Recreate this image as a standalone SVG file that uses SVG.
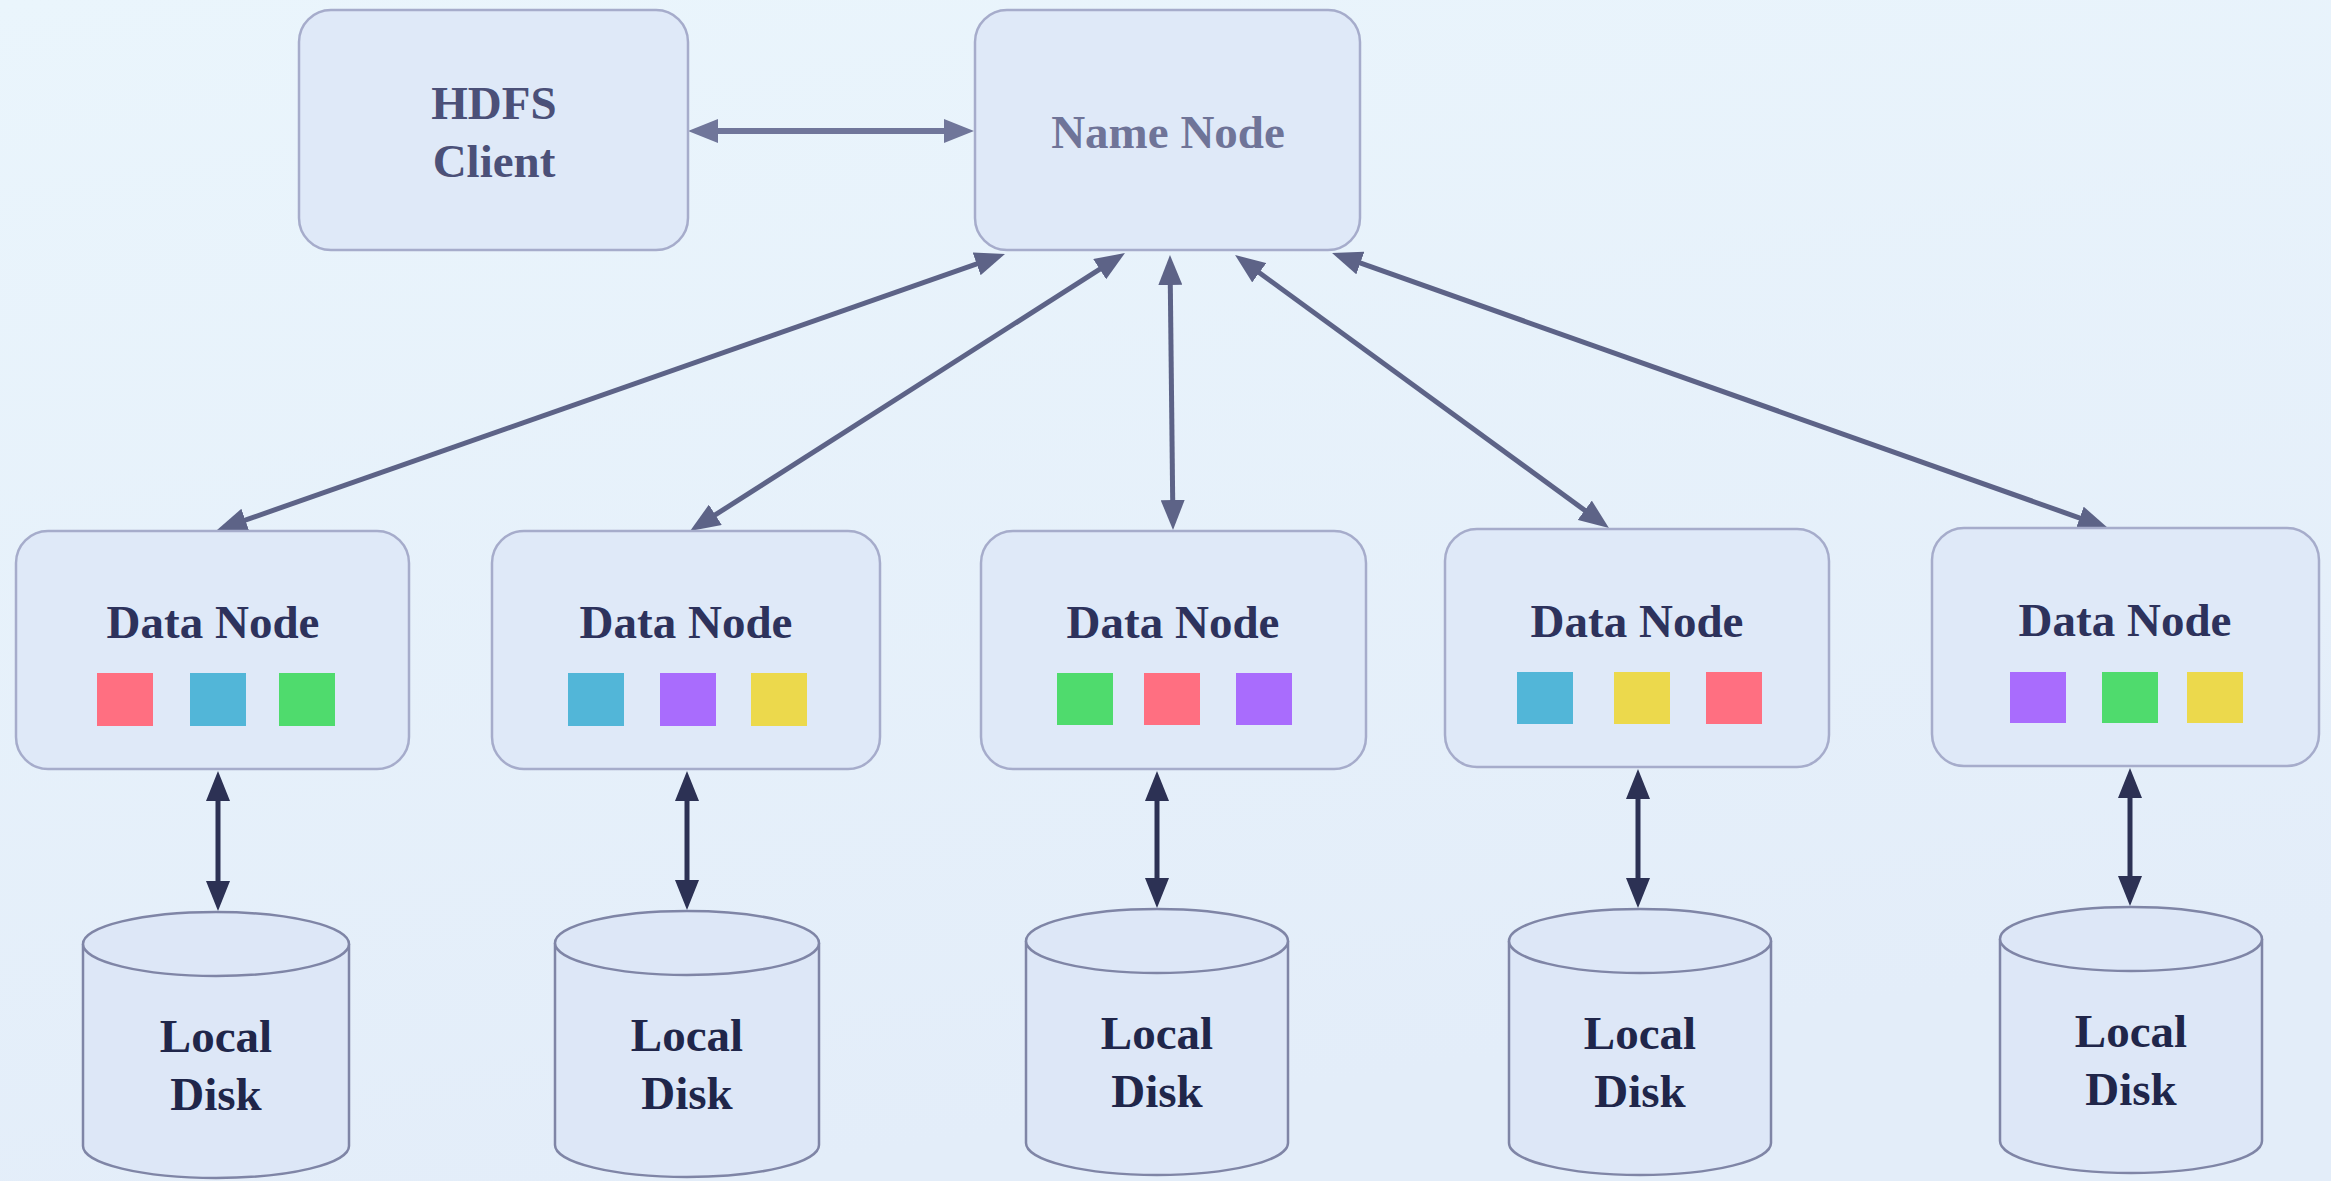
<svg xmlns="http://www.w3.org/2000/svg" width="2331" height="1181" viewBox="0 0 2331 1181">
<defs>
<linearGradient id="bg" x1="0" y1="0" x2="0.3" y2="1">
<stop offset="0" stop-color="#eaf5fc"/>
<stop offset="1" stop-color="#e3edf9"/>
</linearGradient>
<marker id="ahTop" markerUnits="userSpaceOnUse" markerWidth="30" markerHeight="24" viewBox="0 0 30 24" refX="10" refY="12" orient="auto-start-reverse">
<path d="M0,0 L30,12 L0,24 z" fill="#5d6387"/>
</marker>
<marker id="ahGrey" markerUnits="userSpaceOnUse" markerWidth="30" markerHeight="24" viewBox="0 0 30 24" refX="10" refY="12" orient="auto-start-reverse">
<path d="M0,0 L30,12 L0,24 z" fill="#70769a"/>
</marker>
<marker id="ahDark" markerUnits="userSpaceOnUse" markerWidth="30" markerHeight="24" viewBox="0 0 30 24" refX="10" refY="12" orient="auto-start-reverse">
<path d="M0,0 L30,12 L0,24 z" fill="#2c3154"/>
</marker>
</defs>
<style>
.box{fill:#dfe9f8;stroke:#a6accb;stroke-width:2.5}
.disk{fill:#dde7f7;stroke:#7f85a6;stroke-width:2.5}
.t{font-family:"Liberation Serif","Times New Roman",serif;font-weight:bold;font-size:47px;text-anchor:middle}
.top{fill:#4b5078}
.nn{fill:#6f7498}
.dn{fill:#2d325c}
.ld{fill:#20264a}
.sq{stroke:none}
.red{fill:#ff6f81}.blue{fill:#52b6d8}.green{fill:#4fdb6d}.purple{fill:#a96cfd}.yellow{fill:#ecd94c}
.c1{stroke:#5d6387;stroke-width:5;fill:none;marker-start:url(#ahTop);marker-end:url(#ahTop)}
.c0{stroke:#70769a;stroke-width:6;fill:none;marker-start:url(#ahGrey);marker-end:url(#ahGrey)}
.c2{stroke:#2c3154;stroke-width:5;fill:none;marker-start:url(#ahDark);marker-end:url(#ahDark)}
</style>
<rect x="0" y="0" width="2331" height="1181" fill="url(#bg)"/>

<g id="connectors">
<line class="c0" x1="708" y1="131" x2="954" y2="131"/>
<line class="c1" x1="986.1" y1="260.6" x2="235.9" y2="523.4"/>
<line class="c1" x1="1108.1" y1="263.8" x2="706.9" y2="520.2"/>
<line class="c1" x1="1170.2" y1="275" x2="1172.8" y2="510"/>
<line class="c1" x1="1251.2" y1="266.8" x2="1592.8" y2="516.2"/>
<line class="c1" x1="1350.9" y1="259.7" x2="2089.1" y2="521.3"/>
<line class="c2" x1="218" y1="791" x2="218" y2="891"/>
<line class="c2" x1="687" y1="791" x2="687" y2="890"/>
<line class="c2" x1="1157" y1="791" x2="1157" y2="888"/>
<line class="c2" x1="1638" y1="789" x2="1638" y2="888"/>
<line class="c2" x1="2130" y1="788" x2="2130" y2="886"/>
</g>

<g id="hdfs-client">
<rect class="box" x="299" y="10" width="389" height="240" rx="32"/>
<text class="t top" x="494" y="119">HDFS</text>
<text class="t top" x="494" y="177">Client</text>
</g>

<g id="name-node">
<rect class="box" x="975" y="10" width="385" height="240" rx="32"/>
<text class="t nn" x="1168" y="148">Name Node</text>
</g>

<g id="data-node-1">
<rect class="box" x="16" y="531" width="393" height="238" rx="32"/>
<text class="t dn" x="213" y="638">Data Node</text>
<rect class="sq red" x="97" y="673" width="56" height="53"/>
<rect class="sq blue" x="190" y="673" width="56" height="53"/>
<rect class="sq green" x="279" y="673" width="56" height="53"/>
</g>

<g id="data-node-2">
<rect class="box" x="492" y="531" width="388" height="238" rx="32"/>
<text class="t dn" x="686" y="638">Data Node</text>
<rect class="sq blue" x="568" y="673" width="56" height="53"/>
<rect class="sq purple" x="660" y="673" width="56" height="53"/>
<rect class="sq yellow" x="751" y="673" width="56" height="53"/>
</g>

<g id="data-node-3">
<rect class="box" x="981" y="531" width="385" height="238" rx="32"/>
<text class="t dn" x="1173" y="638">Data Node</text>
<rect class="sq green" x="1057" y="673" width="56" height="52"/>
<rect class="sq red" x="1144" y="673" width="56" height="52"/>
<rect class="sq purple" x="1236" y="673" width="56" height="52"/>
</g>

<g id="data-node-4">
<rect class="box" x="1445" y="529" width="384" height="238" rx="32"/>
<text class="t dn" x="1637" y="637">Data Node</text>
<rect class="sq blue" x="1517" y="672" width="56" height="52"/>
<rect class="sq yellow" x="1614" y="672" width="56" height="52"/>
<rect class="sq red" x="1706" y="672" width="56" height="52"/>
</g>

<g id="data-node-5">
<rect class="box" x="1932" y="528" width="387" height="238" rx="32"/>
<text class="t dn" x="2125" y="636">Data Node</text>
<rect class="sq purple" x="2010" y="672" width="56" height="51"/>
<rect class="sq green" x="2102" y="672" width="56" height="51"/>
<rect class="sq yellow" x="2187" y="672" width="56" height="51"/>
</g>

<g id="local-disk-1">
<path class="disk" d="M83,944 L83,1146 A133,32 0 0 0 349,1146 L349,944 A133,32 0 0 0 83,944 z"/>
<path class="disk" d="M83,944 A133,32 0 0 0 349,944" fill="none"/>
<text class="t ld" x="216" y="1052">Local</text>
<text class="t ld" x="216" y="1110">Disk</text>
</g>

<g id="local-disk-2">
<path class="disk" d="M555,943 L555,1145 A132,32 0 0 0 819,1145 L819,943 A132,32 0 0 0 555,943 z"/>
<path class="disk" d="M555,943 A132,32 0 0 0 819,943" fill="none"/>
<text class="t ld" x="687" y="1051">Local</text>
<text class="t ld" x="687" y="1109">Disk</text>
</g>

<g id="local-disk-3">
<path class="disk" d="M1026,941 L1026,1143 A131,32 0 0 0 1288,1143 L1288,941 A131,32 0 0 0 1026,941 z"/>
<path class="disk" d="M1026,941 A131,32 0 0 0 1288,941" fill="none"/>
<text class="t ld" x="1157" y="1049">Local</text>
<text class="t ld" x="1157" y="1107">Disk</text>
</g>

<g id="local-disk-4">
<path class="disk" d="M1509,941 L1509,1143 A131,32 0 0 0 1771,1143 L1771,941 A131,32 0 0 0 1509,941 z"/>
<path class="disk" d="M1509,941 A131,32 0 0 0 1771,941" fill="none"/>
<text class="t ld" x="1640" y="1049">Local</text>
<text class="t ld" x="1640" y="1107">Disk</text>
</g>

<g id="local-disk-5">
<path class="disk" d="M2000,939 L2000,1141 A131,32 0 0 0 2262,1141 L2262,939 A131,32 0 0 0 2000,939 z"/>
<path class="disk" d="M2000,939 A131,32 0 0 0 2262,939" fill="none"/>
<text class="t ld" x="2131" y="1047">Local</text>
<text class="t ld" x="2131" y="1105">Disk</text>
</g>
</svg>
